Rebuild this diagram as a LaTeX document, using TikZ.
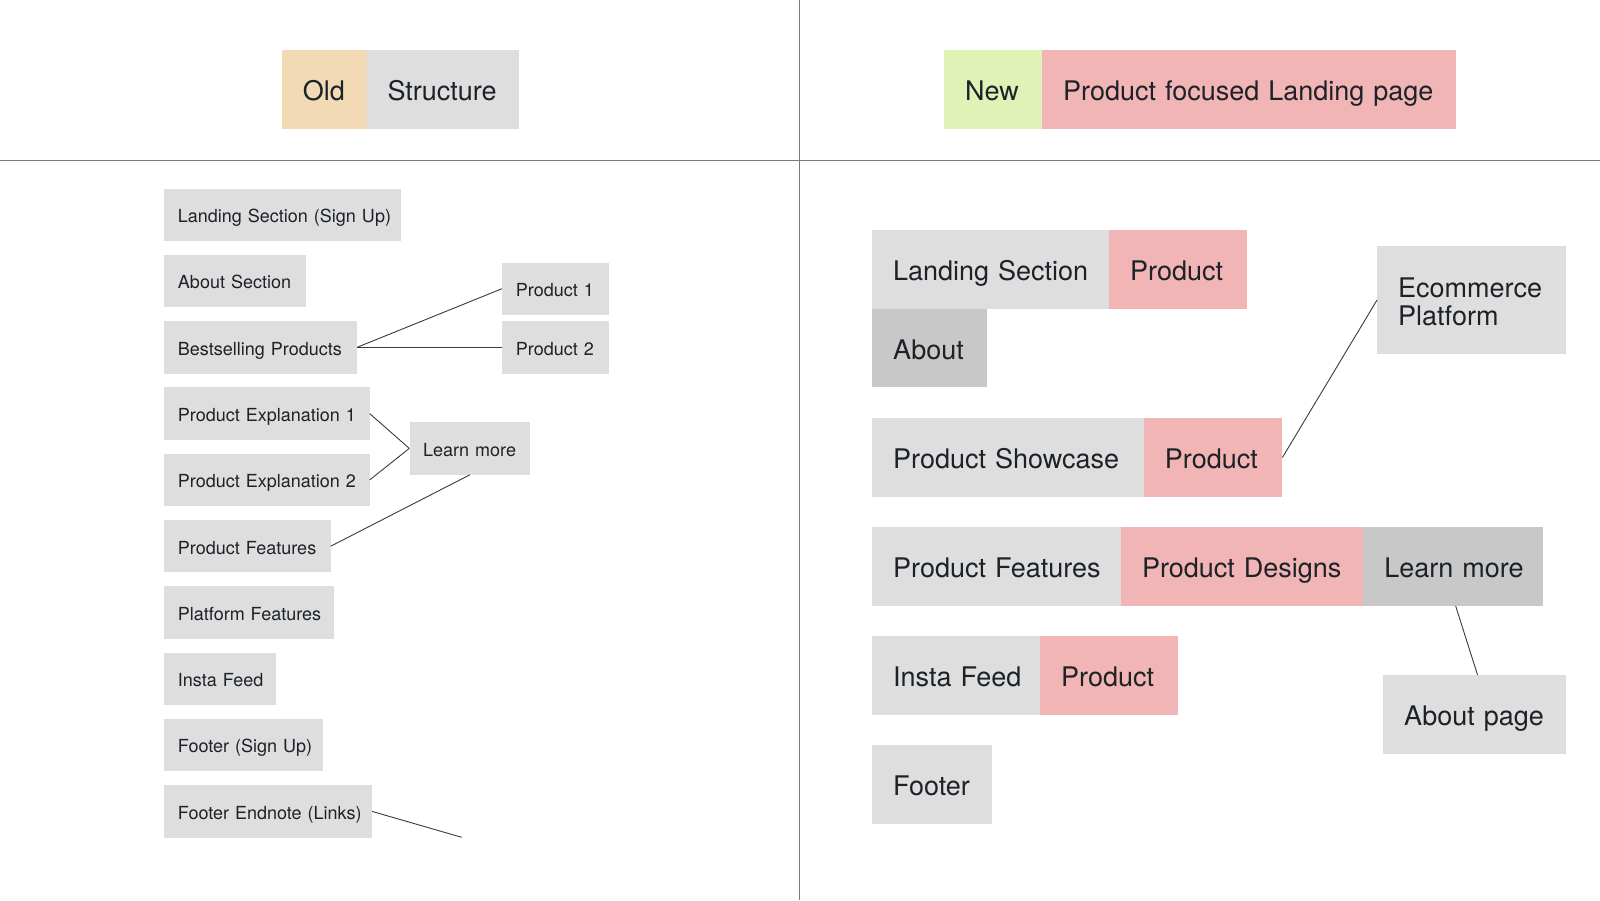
\documentclass[tikz,border=0pt]{standalone}
\usepackage{fontspec}
\setmainfont{TeX Gyre Heros}
\definecolor{boxgray}{HTML}{DEDEDE}
\definecolor{darkgray}{HTML}{C8C8C8}
\definecolor{pinkbox}{HTML}{F2B5B5}
\definecolor{peach}{HTML}{F2DAB5}
\definecolor{lime}{HTML}{E0F2B5}
\definecolor{ink}{HTML}{1C2228}
\definecolor{rule}{HTML}{7A7A7A}
\definecolor{conn}{HTML}{3A3A3A}
\tikzset{
  bigbox/.style={anchor=north west, inner xsep=21pt, inner ysep=0pt,
    minimum height=78.6pt, text height=22.4pt, text depth=0pt, align=left,
    text=ink, font=\fontsize{27}{28.3}\selectfont},
  smallbox/.style={anchor=north west, inner xsep=13.7pt, inner ysep=0pt,
    minimum height=52.4pt, text height=15.6pt, text depth=0pt, align=left,
    text=ink, fill=boxgray, font=\fontsize{18}{20}\selectfont},
  connector/.style={draw=conn, line width=0.9pt},
  divider/.style={draw=rule, line width=1.2pt}
}
\begin{document}
\begin{tikzpicture}[x=1pt,y=-1pt]
\useasboundingbox (0,0) rectangle (1600,900);
% dividers
\draw[divider] (799.3,0) -- (799.3,900);
\draw[divider] (0,160.3) -- (1600,160.3);

% headers
\node[bigbox, fill=peach, text width=42.7pt] (old) at (281.6,50) {\mbox{Old}};
\node[bigbox, fill=boxgray, text width=110.1pt] (struct) at (366.3,50) {\mbox{Structure}};
\node[bigbox, fill=lime, text width=56pt] (new) at (944,50) {\mbox{New}};
\node[bigbox, fill=pinkbox, text width=372pt] (pfl) at (1042,50) {\mbox{Product focused Landing page}};

% left column
\node[smallbox, text width=209.3pt] (landing) at (164,188.3) {\mbox{Landing Section (Sign Up)}};
\node[smallbox, text width=114.6pt] (aboutsec) at (164,254.6) {\mbox{About Section}};
\node[smallbox, text width=165.3pt] (best) at (164,320.9) {\mbox{Bestselling Products}};
\node[smallbox, text width=177.9pt] (pe1) at (164,387.2) {\mbox{Product Explanation 1}};
\node[smallbox, text width=177.9pt] (pe2) at (164,453.5) {\mbox{Product Explanation 2}};
\node[smallbox, text width=138.9pt] (pfeatl) at (164,519.8) {\mbox{Product Features}};
\node[smallbox, text width=142.3pt] (platf) at (164,586.1) {\mbox{Platform Features}};
\node[smallbox, text width=84.6pt] (instal) at (164,652.4) {\mbox{Insta Feed}};
\node[smallbox, text width=130.9pt] (footsu) at (164,718.7) {\mbox{Footer (Sign Up)}};
\node[smallbox, text width=180.3pt] (footend) at (164,785) {\mbox{Footer Endnote (Links)}};
\node[smallbox, text width=79.6pt] (p1) at (502,262.3) {\mbox{Product 1}};
\node[smallbox, text width=79.6pt] (p2) at (502,320.9) {\mbox{Product 2}};
\node[smallbox, text width=93.3pt] (lml) at (409.3,422) {\mbox{Learn more}};
\coordinate (footendend) at (461.7,837.3);

\draw[connector] (best.east) -- (p1.west);
\draw[connector] (best.east) -- (p2.west);
\draw[connector] (pe1.east) -- (lml.west);
\draw[connector] (pe2.east) -- (lml.west);
\draw[connector] (lml.south) -- (pfeatl.east);
\draw[connector] (footend.east) -- (footendend);

% right column
\node[bigbox, fill=boxgray, text width=195pt] (lsec) at (871.9,230) {\mbox{Landing Section}};
\node[bigbox, fill=pinkbox, text width=96.1pt] (lprod) at (1108.9,230) {\mbox{Product}};
\node[bigbox, fill=darkgray, text width=72.8pt] (about) at (871.9,308.6) {\mbox{About}};
\node[bigbox, fill=boxgray, text width=146.7pt, minimum height=107.7pt,
      text height=22.4pt, text depth=28.3pt] (ecom) at (1377,246) {Ecommerce\\Platform};
\node[bigbox, fill=boxgray, text width=229.8pt] (pshow) at (871.9,418) {\mbox{Product Showcase}};
\node[bigbox, fill=pinkbox, text width=96.3pt] (sprod) at (1143.7,418) {\mbox{Product}};
\node[bigbox, fill=boxgray, text width=206.9pt] (pfeat) at (871.9,527) {\mbox{Product Features}};
\node[bigbox, fill=pinkbox, text width=200.4pt] (pdes) at (1120.8,527) {\mbox{Product Designs}};
\node[bigbox, fill=darkgray, text width=137.5pt] (lmore) at (1363.2,527) {\mbox{Learn more}};
\node[bigbox, fill=boxgray, text width=126.1pt] (insta) at (871.9,636) {\mbox{Insta Feed}};
\node[bigbox, fill=pinkbox, text width=96.2pt] (iprod) at (1040,636) {\mbox{Product}};
\node[bigbox, fill=boxgray, text width=77.9pt] (footer) at (871.9,745) {\mbox{Footer}};
\node[bigbox, fill=boxgray, text width=140.7pt] (aboutp) at (1383,675) {\mbox{About page}};

\draw[connector] (sprod.east) -- (ecom.west);
\draw[connector] ([xshift=2.5pt]lmore.south) -- ([xshift=3pt]aboutp.north);
\end{tikzpicture}
\end{document}
